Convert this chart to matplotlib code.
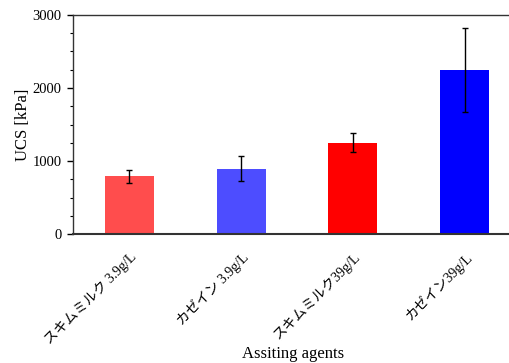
import matplotlib
matplotlib.use("Agg")
import matplotlib.pyplot as plt
from matplotlib.ticker import MultipleLocator

plt.rcParams['font.family'] = ['Liberation Serif', 'Noto Sans CJK JP']

categories = ["スキムミルク 3.9g/L", "カゼイン 3.9g/L", "スキムミルク39g/L", "カゼイン39g/L"]
ucs_mean = [790, 893, 1250, 2250]
ucs_err = [87, 171, 130, 575]
bar_colors = ["#ff4d4d", "#4d4dff", "#ff0000", "#0000ff"]

fig = plt.figure(figsize=(5.10, 3.63), dpi=100)
ax = fig.add_axes([0.143, 0.355, 0.857, 0.604])

x = range(len(categories))
ax.bar(x, ucs_mean, width=0.44, color=bar_colors, zorder=2)
ax.errorbar(x, ucs_mean, yerr=ucs_err, fmt='none', ecolor='black',
            elinewidth=1.0, capsize=2, capthick=1.0, zorder=3)

ax.set_xlim(-0.506, 3.407)
ax.set_ylim(0, 3000)
ax.yaxis.set_major_locator(MultipleLocator(1000))
ax.yaxis.set_minor_locator(MultipleLocator(250))
ax.set_xticks(list(x))
ax.set_xticklabels(categories, rotation=45, ha='right', rotation_mode='anchor',
                   fontsize=10)
ax.tick_params(axis='x', length=0, pad=11)
ax.tick_params(axis='y', which='major', length=4, width=1, labelsize=10.5, pad=4)
ax.tick_params(axis='y', which='minor', length=2, width=0.8)

ax.spines['right'].set_visible(False)
for side in ['top', 'left']:
    ax.spines[side].set_color('#333333')
    ax.spines[side].set_linewidth(1.0)
ax.spines['bottom'].set_color('#333333')
ax.spines['bottom'].set_linewidth(1.5)

ax.set_ylabel("UCS [kPa]", fontsize=12, labelpad=1)
ax.set_xlabel("Assiting agents", fontsize=12, va='center')
ax.xaxis.set_label_coords(0.503, -0.545)

fig.savefig("out.png", dpi=100)
